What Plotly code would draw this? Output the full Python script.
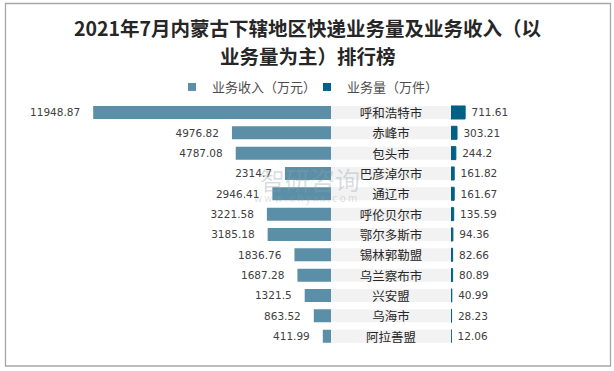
import plotly.graph_objects as go

categories = ["呼和浩特市", "赤峰市", "包头市", "巴彦淖尔市", "通辽市", "呼伦贝尔市",
              "鄂尔多斯市", "锡林郭勒盟", "乌兰察布市", "兴安盟", "乌海市", "阿拉善盟"]
revenue = [11948.87, 4976.82, 4787.08, 2314.7, 2946.41, 3221.58,
           3185.18, 1836.76, 1687.28, 1321.5, 863.52, 411.99]
volume = [711.61, 303.21, 244.2, 161.82, 161.67, 135.59,
          94.36, 82.66, 80.89, 40.99, 28.23, 12.06]
revenue_labels = ["11948.87", "4976.82", "4787.08", "2314.7", "2946.41", "3221.58",
                  "3185.18", "1836.76", "1687.28", "1321.5", "863.52", "411.99"]
volume_labels = ["711.61", "303.21", "244.2", "161.82", "161.67", "135.59",
                 "94.36", "82.66", "80.89", "40.99", "28.23", "12.06"]
label_box = [1] * len(categories)
series_names = ["业务收入（万元）", "业务量（万件）"]
title_lines = ["2021年7月内蒙古下辖地区快递业务量及业务收入（以", "业务量为主）排行榜"]

W, H = 614, 371
FONT = "Noto Sans CJK SC"
NUMFONT = "DejaVu Sans"
C_REV = "#5a8fa7"
C_VOL = "#006186"
NB = "\u00a0"

fig = go.Figure()
fig.add_trace(go.Bar(
    y=categories, x=revenue, orientation="h", showlegend=False,
    marker=dict(color=C_REV, line=dict(width=0)),
    text=[t + NB * 3 for t in revenue_labels], textposition="outside",
    constraintext="none",
    textfont=dict(size=10.5, color="#404040", family=NUMFONT),
    cliponaxis=False, xaxis="x", yaxis="y", hoverinfo="skip"))
fig.add_trace(go.Bar(
    y=categories, x=label_box, orientation="h", showlegend=False,
    marker=dict(color="#f2f2f2", line=dict(width=0)), text=categories,
    textposition="inside", insidetextanchor="middle", constraintext="none",
    textfont=dict(size=12.5, color="#262626", family=FONT),
    xaxis="x3", yaxis="y", hoverinfo="skip"))
fig.add_trace(go.Bar(
    y=categories, x=volume, orientation="h", showlegend=False,
    marker=dict(color=C_VOL, line=dict(color=C_VOL, width=1)),
    text=[NB + t for t in volume_labels], textposition="outside",
    constraintext="none",
    textfont=dict(size=10.5, color="#404040", family=NUMFONT),
    cliponaxis=False, xaxis="x2", yaxis="y", hoverinfo="skip"))

# legend-only entries with small square markers
for name, col in zip(series_names, [C_REV, C_VOL]):
    fig.add_trace(go.Scatter(
        x=[None], y=[None], mode="markers", name=name,
        marker=dict(symbol="square", size=8, color=col),
        xaxis="x3", yaxis="y", hoverinfo="skip"))

ytop, ybot = 102.3, 346.3
annotations = []
for i, line in enumerate(title_lines):
    annotations.append(dict(
        text=line, x=0.5 + 1 / W, y=(H - (28 + 27 * i)) / H, xref="paper", yref="paper",
        xanchor="center", yanchor="middle", showarrow=False,
        font=dict(size=19.5, color="#262626", family=FONT, weight="bold")))
annotations += [
    dict(text="智研咨询", x=310 / W, y=(H - 179) / H, xref="paper", yref="paper",
         showarrow=False, font=dict(size=25, color="rgba(150,160,170,0.35)", family=FONT)),
    dict(text="w w w . c h y x x . c o m", x=305 / W, y=(H - 197) / H, xref="paper",
         yref="paper", showarrow=False,
         font=dict(size=10, color="rgba(150,160,170,0.35)", family=FONT)),
]

fig.update_layout(
    width=W, height=H,
    margin=dict(l=0, r=0, t=0, b=0),
    paper_bgcolor="white", plot_bgcolor="rgba(0,0,0,0)",
    bargap=0.36,
    font=dict(family=FONT, color="#404040"),
    showlegend=True,
    legend=dict(orientation="h", x=0.5, xanchor="center", y=(H - 87) / H, yanchor="middle",
                font=dict(size=13, color="#4d4d4d", family=FONT),
                itemwidth=30, entrywidth=90, tracegroupgap=0, bgcolor="rgba(0,0,0,0)"),
    xaxis=dict(domain=[6 / W, 331 / W], range=[16330, 0], visible=False),
    xaxis2=dict(domain=[451 / W, 609 / W], range=[0, 7950], visible=False, anchor="y"),
    xaxis3=dict(domain=[331 / W, 451 / W], range=[0, 1], visible=False, anchor="y"),
    yaxis=dict(domain=[(H - ybot) / H, (H - ytop) / H], range=[11.5, -0.5],
               visible=False, type="category"),
    shapes=[dict(type="rect", xref="paper", yref="paper",
                 x0=5.5 / W, x1=610.5 / W, y0=(H - 366) / H, y1=(H - 3.5) / H,
                 line=dict(color="#a6a6a6", width=1.3), fillcolor="rgba(0,0,0,0)")],
    annotations=annotations,
)

fig.write_html("out.html", config={"displayModeBar": False},
               post_script="document.body.style.margin='0';")
